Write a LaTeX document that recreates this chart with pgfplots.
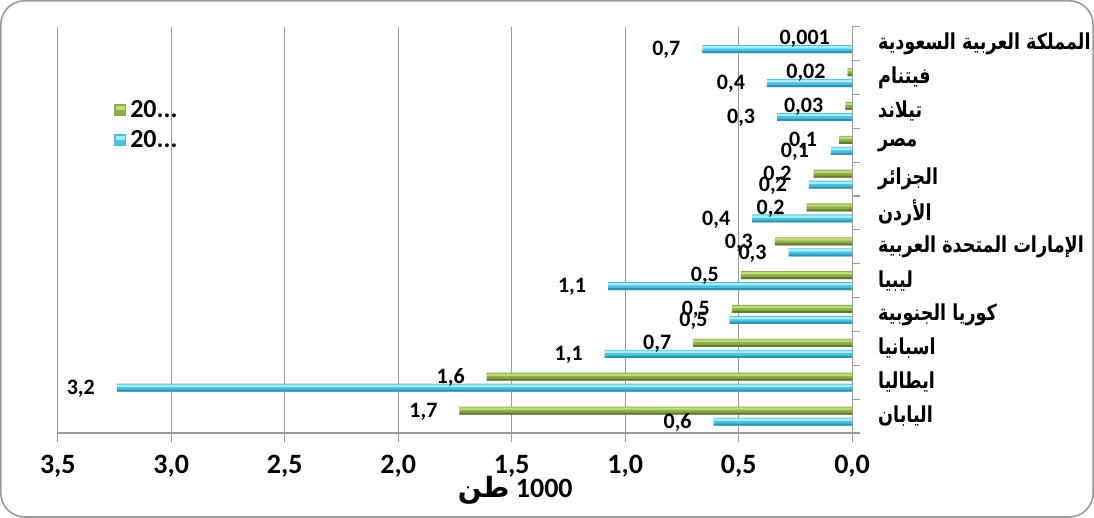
\documentclass[border=0pt]{standalone}
\usepackage{fontspec}
\setmainfont{Carlito}
\newfontfamily\arabicfont[Script=Arabic, FakeStretch=0.8]{DejaVu Sans}
\newfontfamily\arabicfontx[Script=Arabic]{DejaVu Sans}
\TeXXeTstate=1
\usepackage{pgfplots}
\usepackage{pgfplotstable}
\pgfplotsset{compat=1.18}
\definecolor{gridgray}{HTML}{9A9A9A}
\definecolor{gtop}{HTML}{BBDA7C}
\definecolor{gmid}{HTML}{8BAE47}
\definecolor{gbot}{HTML}{5E7C2C}
\definecolor{btop}{HTML}{A8ECF9}
\definecolor{bmid}{HTML}{4CC1DE}
\definecolor{bbot}{HTML}{2E93AF}

\pgfplotstableread{
y green glab blue blab
0 1.73 1,7 0.61 0,6
1 1.61 1,6 3.24 3,2
2 0.70 0,7 1.09 1,1
3 0.53 0,5 0.54 0,5
4 0.49 0,5 1.075 1,1
5 0.34 0,3 0.28 0,3
6 0.20 0,2 0.44 0,4
7 0.17 0,2 0.19 0,2
8 0.057 0,1 0.093 0,1
9 0.03 0,03 0.33 0,3
10 0.02 0,02 0.375 0,4
11 0.001 0,001 0.66 0,7
}\data

\begin{document}
\begin{tikzpicture}
\begin{axis}[
  at={(0,0)}, anchor=south west,
  scale only axis, width=397pt, height=203pt,
  xbar, bar width=4pt,
  x dir=reverse,
  xmin=0, xmax=3.5, ymin=-0.5, ymax=11.5,
  xtick={0,0.5,...,3.5},
  ytick={0,...,11},
  yticklabels={
    {\beginR اليابان\endR},
    {\beginR ايطاليا\endR},
    {\beginR اسبانيا\endR},
    {\beginR كوريا الجنوبية\endR},
    {\beginR ليبيا\endR},
    {\beginR الإمارات المتحدة العربية\endR},
    {\beginR الأردن\endR},
    {\beginR الجزائر\endR},
    {\beginR مصر\endR},
    {\beginR تيلاند\endR},
    {\beginR فيتنام\endR},
    {\beginR المملكة العربية السعودية\endR}},
  minor ytick={-0.5,0.5,...,11.5},
  major y tick style={draw=none},
  minor y tick style={draw=gridgray, line width=0.6pt},
  major x tick style={draw=gridgray, line width=0.6pt},
  minor tick length=4pt,
  major tick length=4.5pt,
  tick align=outside,
  axis x line*=bottom, axis y line*=right,
  x axis line style={draw=gridgray, line width=0.6pt, -},
  y axis line style={draw=gridgray, line width=0.6pt, -},
  xmajorgrids,
  grid style={draw=gridgray, line width=0.6pt},
  /pgf/number format/.cd, use comma, fixed, fixed zerofill, precision=1, assume math mode=true,
  /pgfplots/.cd,
  xticklabel style={font=\bfseries\fontsize{14}{16}\selectfont, yshift=-3pt},
  yticklabel style={font=\arabicfont\bfseries\fontsize{11}{13}\selectfont, anchor=west, xshift=5pt},
  xlabel={{\arabicfontx\bfseries\beginR طن\endR}\ \textbf{1000}},
  xlabel style={at={(axis description cs:0.576,-0.140)}, anchor=center, font=\bfseries\fontsize{14}{16}\selectfont},
  every node near coord/.append style={anchor=east, xshift=-7.5pt, yshift=-0.5pt, font=\bfseries\fontsize{11}{12}\selectfont, text=black},
  legend style={at={(axis description cs:0.063,0.84)}, anchor=north west, draw=none, fill=none,
    font=\bfseries\fontsize{13}{15}\selectfont, row sep=1pt},
  legend cell align=left,
]
% green series (first year)
\addplot[draw=none, fill=gmid, bar shift=2.75pt,
  legend image code/.code={\fill[gmid] (0pt,-3pt) rectangle (6pt,3pt); \fill[gtop] (0.8pt,0pt) rectangle (5.2pt,2.2pt);}]
  table[x=green, y=y] {\data};
\addlegendentry{20...}
\addplot[forget plot, draw=none, fill=gtop, bar width=1.2pt, bar shift=3.7pt] table[x=green, y=y] {\data};
\addplot[forget plot, draw=none, fill=gbot, bar width=1pt, bar shift=1.25pt] table[x=green, y=y] {\data};
% blue series (second year)
\addplot[draw=none, fill=bmid, bar shift=-2.75pt,
  legend image code/.code={\fill[bmid] (0pt,-3pt) rectangle (6pt,3pt); \fill[btop] (0.8pt,0pt) rectangle (5.2pt,2.2pt);}]
  table[x=blue, y=y] {\data};
\addlegendentry{20...}
\addplot[forget plot, draw=none, fill=btop, bar width=1.2pt, bar shift=-1.8pt] table[x=blue, y=y] {\data};
\addplot[forget plot, draw=none, fill=bbot, bar width=1pt, bar shift=-4.25pt] table[x=blue, y=y] {\data};
% value labels
\addplot[forget plot, draw=none, fill=none, bar shift=2.75pt, nodes near coords, point meta=explicit symbolic]
  table[x=green, y=y, meta=glab] {\data};
\addplot[forget plot, draw=none, fill=none, bar shift=-2.75pt, nodes near coords, point meta=explicit symbolic]
  table[x=blue, y=y, meta=blab] {\data};
\end{axis}
\draw[gridgray, line width=0.8pt, rounded corners=12pt] (-28.5pt,-42pt) rectangle (517.5pt,216pt);
\pgfresetboundingbox
\path[use as bounding box] (-28.9pt,-42.4pt) rectangle (517.9pt,216.4pt);
\end{tikzpicture}
\end{document}
